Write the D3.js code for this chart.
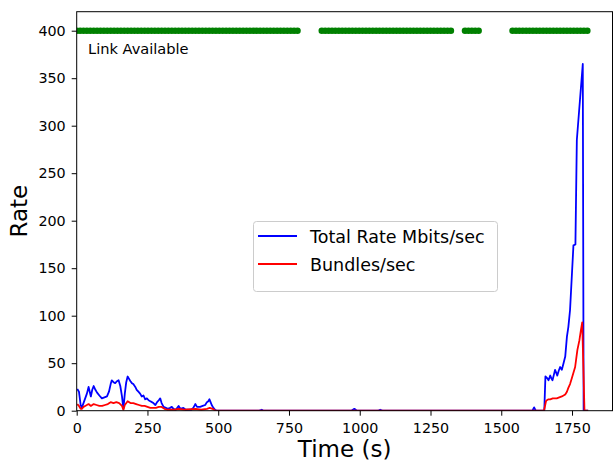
<!DOCTYPE html>
<html>
<head>
<meta charset="utf-8">
<script src="https://cdn.jsdelivr.net/npm/d3@7"></script>
<style>
  html, body { margin: 0; padding: 0; background: #fff; }
  svg { display: block; }
  text { font-family: "DejaVu Sans", sans-serif; fill: #000; }
</style>
</head>
<body>
<svg id="chart" width="613" height="462"></svg>
<script>
// Total rate (Mbits/sec) samples: time (s) and value
const rateTimes = [2, 8, 14, 18, 24, 30, 36, 42, 46, 50, 55, 60, 66, 72, 80, 89, 98, 107, 114, 120,
  124, 130, 136, 142, 148, 154, 160, 165, 170, 175, 180, 186, 190, 195, 200, 207, 212, 218, 224, 230,
  236, 242, 248, 254, 260, 266, 271, 278, 284, 290, 295, 300, 307, 315, 322, 330, 336, 342, 350, 360,
  366, 377, 385, 395, 405, 412, 419, 425, 436, 445, 454, 460, 465, 469, 473, 477, 483, 489, 495, 645,
  654, 660, 970, 981, 990, 1065, 1072, 1080, 1610, 1616, 1622, 1652, 1656, 1663, 1667, 1673, 1677, 1681,
  1686, 1690, 1694, 1698, 1703, 1708, 1714, 1720, 1726, 1732, 1737, 1743, 1755, 1762, 1767, 1788, 1791, 1807];
const rateValues = [23, 20, 6, 3, 8, 13, 18, 25, 20, 15, 22, 26, 22, 19, 16, 13, 14, 15, 20, 28,
  32, 30, 29, 31, 32, 26, 15, 2, 18, 30, 36, 33, 31, 29, 28, 25, 22, 20, 18, 15,
  16, 12, 13, 11, 10, 9, 8, 6, 9, 11, 13, 8, 4, 3, 2, 3, 4, 2, 1, 5,
  2, 3, 1, 1, 1, 3, 7, 4, 4, 5, 6, 9, 10, 12, 9, 6, 3, 1, 0, 0,
  1, 0, 0, 2, 0, 0, 1, 0, 0, 3.5, 0, 0, 36, 34, 32, 37, 34, 32,
  38, 43, 40, 37, 42, 46, 43, 50, 57, 78, 88, 106, 174, 175, 285, 365, 0, 0];

// Bundles/sec samples: time (s) and value
const bundleTimes = [2, 8, 14, 18, 24, 30, 36, 42, 50, 60, 70, 80, 90, 100, 110, 120, 130, 140, 150, 160,
  165, 170, 180, 190, 200, 210, 220, 230, 240, 250, 260, 270, 280, 290, 300, 310, 320, 330, 345, 360,
  380, 420, 440, 460, 470, 480, 490, 1651, 1658, 1661, 1667, 1673, 1682, 1690, 1696, 1705, 1714, 1720,
  1726, 1732, 1737, 1743, 1749, 1755, 1761, 1765, 1769, 1776, 1781, 1786, 1794, 1807];
const bundleValues = [7, 5, 2, 2, 4, 5, 6, 7, 5, 7, 6, 5, 5, 6, 7, 9, 8, 9, 8, 5,
  1, 6, 10, 8, 8, 7, 6, 5, 5, 4, 3, 3, 3, 4, 4, 2, 1, 1, 1, 2,
  1, 2, 1, 2, 3, 2, 0, 0, 10, 11, 12, 12, 13, 13, 13, 14, 15, 16,
  17, 20, 24, 28, 34, 40, 46, 55, 64, 74, 84, 93, 0, 0];

// Periods (s) during which the link was up, sampled every linkStep seconds
const linkWindows = [[0, 780], [866, 1331], [1372, 1425], [1540, 1806]];
const linkStep = 12;
const linkLevel = 400;

const xTicks = [0, 250, 500, 750, 1000, 1250, 1500, 1750];
const yTicks = [0, 50, 100, 150, 200, 250, 300, 350, 400];

const seriesNames = ["Total Rate Mbits/sec", "Bundles/sec"];
const seriesColors = ["#0000ff", "#ff0000"];

// ---- layout ----
const plot = { left: 76.7, right: 612.5, top: 11.7, bottom: 410.7 };
const svg = d3.select("#chart");

const x = d3.scaleLinear().domain([0, 1893]).range([plot.left, plot.right]);
const y = d3.scaleLinear().domain([0, 420]).range([plot.bottom, plot.top]);

svg.append("defs").append("clipPath").attr("id", "plot-clip")
  .append("rect")
  .attr("x", plot.left).attr("y", plot.top)
  .attr("width", plot.right - plot.left).attr("height", plot.bottom - plot.top);

const marks = svg.append("g").attr("clip-path", "url(#plot-clip)");

// link availability markers
const linkTimes = [];
linkWindows.forEach(([a, b]) => {
  for (let t = a; t <= b; t += linkStep) linkTimes.push(t);
});
marks.append("g").selectAll("circle").data(linkTimes).join("circle")
  .attr("cx", d => x(d)).attr("cy", y(linkLevel)).attr("r", 3.3)
  .attr("fill", "#008000");

// rate lines
const line = d3.line().x(d => x(d[0])).y(d => y(d[1]));
const rateData = d3.zip(rateTimes, rateValues);
const bundleData = d3.zip(bundleTimes, bundleValues);
[rateData, bundleData].forEach((data, i) => {
  marks.append("path").datum(data)
    .attr("d", line)
    .attr("fill", "none")
    .attr("stroke", seriesColors[i])
    .attr("stroke-width", 1.8)
    .attr("stroke-linejoin", "round");
});

// axes
const xAxis = svg.append("g").attr("transform", `translate(0,${plot.bottom})`)
  .call(d3.axisBottom(x).tickValues(xTicks).tickSize(5).tickPadding(7).tickFormat(d3.format("d")));
const yAxis = svg.append("g").attr("transform", `translate(${plot.left},0)`)
  .call(d3.axisLeft(y).tickValues(yTicks).tickSize(5).tickPadding(6).tickFormat(d3.format("d")));
[xAxis, yAxis].forEach(g => {
  g.select(".domain").remove();
  g.selectAll(".tick line").attr("stroke", "#000").attr("stroke-width", 1);
  g.selectAll(".tick text").attr("font-size", 14.3).attr("font-family", "DejaVu Sans").attr("fill", "#000");
});

// frame
svg.append("rect")
  .attr("x", plot.left).attr("y", plot.top)
  .attr("width", plot.right - plot.left).attr("height", plot.bottom - plot.top)
  .attr("fill", "none").attr("stroke", "#000").attr("stroke-width", 1);

// annotation
svg.append("text")
  .attr("x", x(40)).attr("y", y(375))
  .attr("font-size", 14.6)
  .text("Link Available");

// axis labels
svg.append("text")
  .attr("x", (plot.left + plot.right) / 2).attr("y", 457)
  .attr("text-anchor", "middle").attr("font-size", 23)
  .text("Time (s)");
svg.append("text")
  .attr("transform", `translate(27,${(plot.top + plot.bottom) / 2}) rotate(-90)`)
  .attr("text-anchor", "middle").attr("font-size", 23)
  .text("Rate");

// legend
const legend = svg.append("g");
legend.append("rect")
  .attr("x", 253.5).attr("y", 221.5).attr("width", 244).attr("height", 70).attr("rx", 3)
  .attr("fill", "#fff").attr("fill-opacity", 0.8)
  .attr("stroke", "#cccccc").attr("stroke-width", 1);
seriesNames.forEach((name, i) => {
  const cy = 236 + i * 28;
  legend.append("line")
    .attr("x1", 258).attr("x2", 297).attr("y1", cy).attr("y2", cy)
    .attr("stroke", seriesColors[i]).attr("stroke-width", 1.8);
  legend.append("text")
    .attr("x", 310).attr("y", cy + 7.3)
    .attr("font-size", 17.5)
    .text(name);
});
</script>
</body>
</html>
